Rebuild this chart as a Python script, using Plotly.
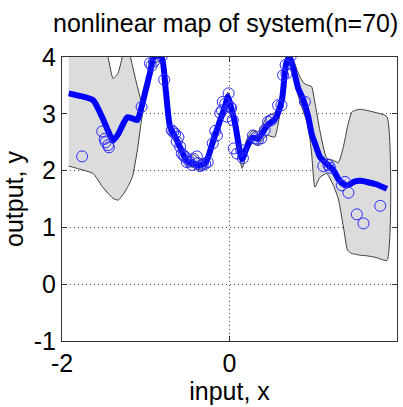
import plotly.graph_objects as go

# Observed samples (n = 70)
obs_x = [-1.76, -1.52, -1.49, -1.48, -1.45, -1.44, -1.05, -0.95, -0.90, -0.81,
         -0.78, -0.69, -0.65, -0.61, -0.63, -0.59, -0.57, -0.53, -0.51, -0.43,
         -0.39, -0.45, -0.38, -0.32, -0.26, -0.20, -0.15, -0.11, -0.05, -0.01,
         -0.03, 0.02, 0.04, 0.05, 0.14, 0.16, 0.28, 0.34, 0.38, 0.42,
         0.46, 0.50, 0.58, 0.64, 0.67, 0.73, 0.90, 1.12, 1.20, 1.34,
         1.38, 1.42, 1.52, 1.60, 1.80, -0.93, -0.67, -0.55, -0.48, -0.35,
         -0.29, -0.08, -0.09, 0.01, -0.17, 0.09, 0.31, 0.62, 0.68, 1.18]
obs_y = [2.25, 2.69, 2.56, 2.50, 2.45, 2.41, 3.12, 3.89, 3.92, 4.01,
         3.60, 2.71, 2.65, 2.59, 2.51, 2.42, 2.30, 2.24, 2.15, 2.21,
         2.25, 2.10, 2.13, 2.10, 2.15, 2.48, 2.62, 3.01, 3.18, 3.36,
         2.95, 3.10, 2.89, 2.39, 2.36, 2.22, 2.62, 2.54, 2.57, 2.71,
         2.86, 2.89, 3.15, 3.68, 3.86, 4.01, 3.21, 2.08, 2.05, 1.74,
         1.80, 1.61, 1.23, 1.07, 1.38, 3.85, 2.68, 2.27, 2.16, 2.08,
         2.12, 3.21, 3.06, 3.12, 2.70, 2.30, 2.57, 3.15, 3.71, 2.10]

# Fitted map: mean and confidence bounds on an evaluation grid
fit_x = [-1.92, -1.80, -1.63, -1.52, -1.45, -1.39, -1.33, -1.27, -1.22, -1.16,
         -1.10, -1.05, -1.00, -0.95, -0.91, -0.86, -0.81, -0.76, -0.71, -0.65,
         -0.59, -0.51, -0.43, -0.35, -0.28, -0.20, -0.12, -0.05, -0.02, 0.03,
         0.07, 0.11, 0.15, 0.21, 0.27, 0.34, 0.40, 0.45, 0.54, 0.60,
         0.63, 0.68, 0.72, 0.77, 0.82, 0.88, 0.94, 0.98, 1.02, 1.08,
         1.16, 1.24, 1.30, 1.36, 1.41, 1.46, 1.50, 1.56, 1.64, 1.75, 1.88]
fit_mean = [3.36, 3.32, 3.24, 2.94, 2.70, 2.53, 2.64, 2.82, 2.94, 2.92,
            2.89, 3.12, 3.42, 3.72, 3.98, 4.02, 4.00, 3.40, 2.77, 2.60,
            2.41, 2.17, 2.12, 2.09, 2.15, 2.50, 2.85, 3.15, 3.30, 3.05,
            2.80, 2.45, 2.20, 2.42, 2.58, 2.56, 2.68, 2.80, 2.90, 3.10,
            3.28, 3.90, 3.98, 3.75, 3.45, 3.25, 2.95, 2.65, 2.48, 2.24,
            2.12, 2.01, 1.85, 1.76, 1.74, 1.78, 1.81, 1.82, 1.80, 1.76, 1.68]
fit_lo = [2.08, 2.03, 1.95, 1.72, 1.60, 1.51, 1.48, 1.58, 1.70, 1.89,
          2.36, 2.90, 3.32, 3.62, 3.88, 3.92, 3.88, 3.30, 2.68, 2.52,
          2.33, 2.10, 2.05, 2.01, 2.06, 2.42, 2.77, 3.08, 3.22, 2.97,
          2.72, 2.36, 2.04, 2.32, 2.48, 2.45, 2.55, 2.62, 2.59, 2.98,
          3.18, 3.80, 3.88, 3.62, 3.32, 3.05, 2.77, 2.31, 1.71, 1.88,
          1.95, 1.74, 1.50, 1.01, 0.60, 0.54, 0.53, 0.51, 0.50, 0.47, 0.42]
fit_hi = [4.50, 4.60, 4.60, 4.40, 4.00, 3.62, 3.72, 4.05, 4.20, 3.85,
          3.48, 3.22, 3.52, 3.82, 4.08, 4.12, 4.12, 3.52, 2.86, 2.68,
          2.49, 2.25, 2.28, 2.20, 2.24, 2.58, 2.93, 3.24, 3.38, 3.13,
          2.88, 2.54, 2.30, 2.56, 2.70, 2.68, 2.82, 2.96, 3.02, 3.20,
          3.38, 4.00, 4.08, 3.92, 3.72, 3.55, 3.50, 3.48, 3.19, 2.70,
          2.22, 2.18, 2.14, 2.42, 2.78, 3.03, 3.06, 3.08, 3.06, 3.02, 2.95]

# Axis ticks
x_ticks = [-2, 0, 2]
x_tick_labels = ["-2", "0", "2"]
y_ticks = [-1, 0, 1, 2, 3, 4]
y_tick_labels = ["-1", "0", "1", "2", "3", "4"]

FONT = "Liberation Sans, Arial, Helvetica, sans-serif"

fig = go.Figure()

# Confidence band as a closed polygon (upper bound out, lower bound back)
fig.add_trace(go.Scatter(
    x=fit_x + fit_x[::-1],
    y=fit_hi + fit_lo[::-1],
    mode="lines",
    fill="toself",
    fillcolor="#dcdcdc",
    line=dict(color="#3c3c3c", width=1, shape="spline", smoothing=0.5),
    hoverinfo="skip",
))

# Mean prediction
fig.add_trace(go.Scatter(
    x=fit_x, y=fit_mean,
    mode="lines",
    line=dict(color="#0000ff", width=6, shape="spline", smoothing=0.6),
))

# Training samples
fig.add_trace(go.Scatter(
    x=obs_x, y=obs_y,
    mode="markers",
    marker=dict(symbol="circle-open", size=11, color="#2a2aff",
                line=dict(width=1, color="#2a2aff")),
))

axis_common = dict(
    showgrid=True, gridcolor="#444444", griddash="1px,3px", gridwidth=1,
    showline=True, linecolor="#333333", linewidth=1, mirror="ticks",
    ticks="inside", ticklen=5, tickcolor="#333333",
    zeroline=False, tickfont=dict(family=FONT, size=25, color="black"),
)

fig.update_xaxes(range=[-2, 2], tickvals=x_ticks, ticktext=x_tick_labels,
                 title=dict(text="input, x", font=dict(family=FONT, size=25),
                            standoff=2),
                 **axis_common)
fig.update_yaxes(range=[-1, 4], tickvals=y_ticks, ticktext=y_tick_labels,
                 title=dict(text="output, y", font=dict(family=FONT, size=25),
                            standoff=4),
                 **axis_common)

fig.update_layout(
    width=403, height=407,
    margin=dict(l=62, r=6, t=57, b=66),
    plot_bgcolor="white", paper_bgcolor="white",
    showlegend=False,
    font=dict(family=FONT, size=25, color="black"),
    title=dict(text="nonlinear map of system(n=70)",
               font=dict(family=FONT, size=25, color="black"),
               x=0.56, xanchor="center", y=1 - 23 / 407, yanchor="middle",
               yref="container"),
)

fig.write_html("out.html")
